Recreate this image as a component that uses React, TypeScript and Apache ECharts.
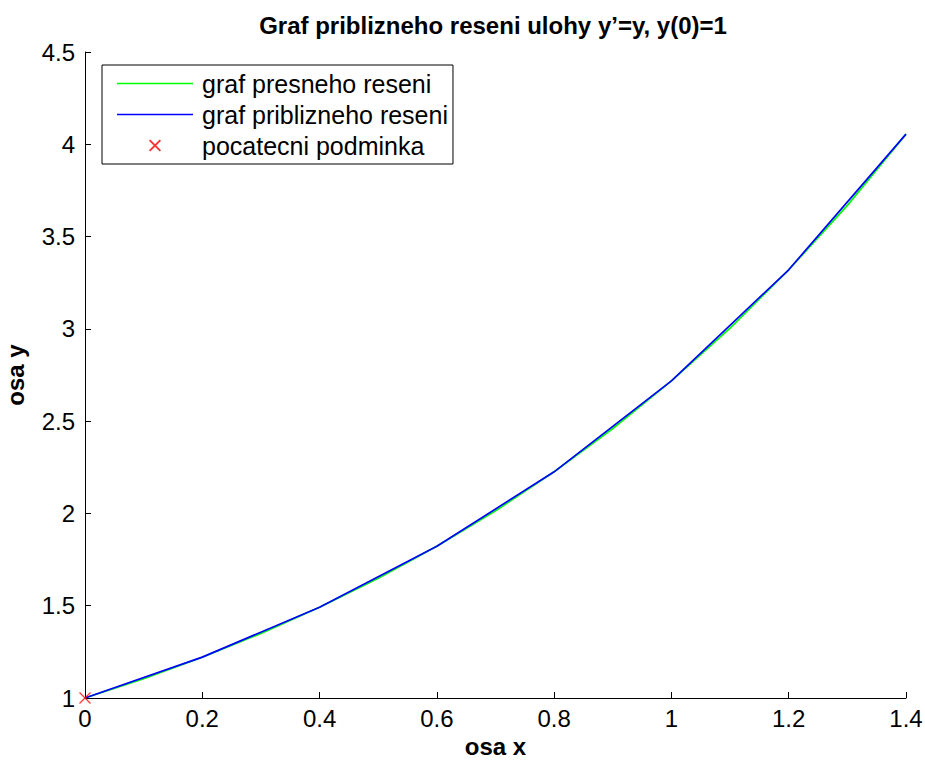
import React, { useEffect, useRef } from "react";
import * as echarts from "echarts";

const exactX = [0, 0.1, 0.2, 0.3, 0.4, 0.5, 0.6, 0.7, 0.8, 0.9, 1.0, 1.1, 1.2, 1.3, 1.4];
const exactY = [1, 1.105, 1.221, 1.350, 1.492, 1.649, 1.822, 2.014, 2.226, 2.460, 2.718, 3.004, 3.320, 3.669, 4.055];
const approxX = [0, 0.2, 0.4, 0.6, 0.8, 1.0, 1.2, 1.4];
const approxY = [1, 1.2214, 1.4918, 1.8221, 2.2255, 2.7182, 3.3201, 4.0550];
const initX = [0];
const initY = [1];

const seriesNames = ["graf presneho reseni", "graf priblizneho reseni", "pocatecni podminka"];
const titleText = "Graf priblizneho reseni ulohy y\u2019=y, y(0)=1";
const xName = "osa x";
const yName = "osa y";

const FONT = "Liberation Sans, Arial, Helvetica, sans-serif";
const CROSS = "path://M0,0L10,10M10,0L0,10";
const LEGEND_CROSS = "path://M-1.5,-1.5M0,0L10,10M10,0L0,10M11.5,11.5";
const LEGEND_LINE = "path://M0,0H76V1.4H0Z";

export default function App() {
  const ref = useRef<HTMLDivElement>(null);
  useEffect(() => {
    if (!ref.current) return;
    const chart = echarts.init(ref.current, undefined, { renderer: "svg" });
    const zip = (xs: number[], ys: number[]) => xs.map((x, i) => [x, ys[i]]);
    chart.setOption({
      animation: false,
      backgroundColor: "#ffffff",
      textStyle: { fontFamily: FONT },
      title: {
        text: titleText,
        left: 488,
        textAlign: "center",
        top: 8,
        textStyle: { fontFamily: FONT, fontWeight: "bold", fontSize: 24, color: "#000" },
      },
      grid: { left: 85, right: 19, top: 52, bottom: 64, containLabel: false, outerBoundsMode: "none" },
      legend: {
        orient: "vertical",
        left: 102,
        top: 65,
        padding: [6, 5, 6, 15],
        itemGap: 6,
        itemWidth: 76,
        itemHeight: 14,
        borderColor: "#000",
        borderWidth: 1,
        backgroundColor: "#fff",
        textStyle: { fontFamily: FONT, fontSize: 25, color: "#000", lineHeight: 25, padding: [0, 0, 0, 4] },
        data: [
          { name: seriesNames[0], icon: LEGEND_LINE },
          { name: seriesNames[1], icon: LEGEND_LINE },
          { name: seriesNames[2], icon: LEGEND_CROSS },
        ],
      },
      xAxis: {
        type: "value",
        min: 0,
        max: 1.4,
        interval: 0.2,
        name: xName,
        nameLocation: "middle",
        nameGap: 36,
        nameTextStyle: { fontFamily: FONT, fontWeight: "bold", fontSize: 24, color: "#000" },
        axisLine: { show: true, lineStyle: { color: "#000", width: 1 } },
        axisTick: { show: true, inside: true, length: 6, lineStyle: { color: "#000" } },
        axisLabel: { fontFamily: FONT, fontSize: 24, color: "#000", margin: 8 },
        splitLine: { show: false },
      },
      yAxis: {
        type: "value",
        min: 1,
        max: 4.5,
        interval: 0.5,
        name: yName,
        nameLocation: "middle",
        nameGap: 58,
        nameRotate: 90,
        nameTextStyle: { fontFamily: FONT, fontWeight: "bold", fontSize: 24, color: "#000" },
        axisLine: { show: true, lineStyle: { color: "#000", width: 1 } },
        axisTick: { show: true, inside: true, length: 6, lineStyle: { color: "#000" } },
        axisLabel: { fontFamily: FONT, fontSize: 24, color: "#000", margin: 10 },
        splitLine: { show: false },
      },
      series: [
        {
          name: seriesNames[0],
          type: "line",
          data: zip(exactX, exactY),
          showSymbol: false,
          symbol: "none",
          color: "#00ff00",
          lineStyle: { color: "#00ff00", width: 1.7 },
        },
        {
          name: seriesNames[1],
          type: "line",
          data: zip(approxX, approxY),
          showSymbol: false,
          symbol: "none",
          color: "#0000ff",
          lineStyle: { color: "#0000ff", width: 1.7 },
        },
        {
          name: seriesNames[2],
          type: "scatter",
          data: zip(initX, initY),
          symbol: CROSS,
          symbolSize: 11,
          color: "#ff0000",
          itemStyle: { color: "transparent", borderColor: "#ff0000", borderWidth: 1.2 },
          z: 5,
        },
      ],
    });
    return () => chart.dispose();
  }, []);
  return <div ref={ref} style={{ width: 925, height: 762, position: "absolute", left: 0, top: 0 }} />;
}
